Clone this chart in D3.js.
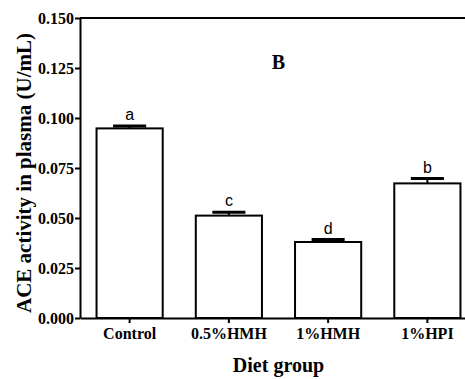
<!DOCTYPE html>
<html>
<head>
<meta charset="utf-8">
<script src="https://cdn.jsdelivr.net/npm/d3@7"></script>
<style>
  body { margin: 0; background: #fff; }
  text { font-family: "Liberation Serif", "Times New Roman", serif; font-weight: bold; }
</style>
</head>
<body>
<script>
// data
var groups = ["Control", "0.5%HMH", "1%HMH", "1%HPI"]
var means = [0.0948, 0.0512, 0.0380, 0.0673]
var errs = [0.0012, 0.0017, 0.0012, 0.0024]
var letters = ["a", "c", "d", "b"]
var yTicks = [0.000, 0.025, 0.050, 0.075, 0.100, 0.125, 0.150]

var width = 465, height = 379
var plotLeft = 80, plotRight = 477, plotTop = 18, plotBottom = 318

var svg = d3.select("body")
  .append("svg")
  .attr("width", width)
  .attr("height", height)

var x = d3.scaleBand()
  .domain(groups)
  .range([plotLeft, plotRight])
  .paddingInner(1/3)
  .paddingOuter(1/6)

var y = d3.scaleLinear()
  .domain([0, 0.15])
  .range([plotBottom, plotTop])

// bars
svg.selectAll("rect.bar")
  .data(groups)
  .enter()
  .append("rect")
    .attr("class", "bar")
    .attr("x", function(d){ return x(d) })
    .attr("y", function(d, i){ return y(means[i]) })
    .attr("width", x.bandwidth())
    .attr("height", function(d, i){ return y(0) - y(means[i]) })
    .attr("fill", "white")
    .attr("stroke", "black")
    .attr("stroke-width", 2)

// error bars (upper only)
var capW = x.bandwidth() / 2
svg.selectAll("line.err")
  .data(groups)
  .enter()
  .append("line")
    .attr("x1", function(d){ return x(d) + x.bandwidth()/2 })
    .attr("x2", function(d){ return x(d) + x.bandwidth()/2 })
    .attr("y1", function(d, i){ return y(means[i]) })
    .attr("y2", function(d, i){ return y(means[i] + errs[i]) })
    .attr("stroke", "black")
    .attr("stroke-width", 2)
svg.selectAll("line.cap")
  .data(groups)
  .enter()
  .append("line")
    .attr("x1", function(d){ return x(d) + x.bandwidth()/2 - capW/2 })
    .attr("x2", function(d){ return x(d) + x.bandwidth()/2 + capW/2 })
    .attr("y1", function(d, i){ return y(means[i] + errs[i]) })
    .attr("y2", function(d, i){ return y(means[i] + errs[i]) })
    .attr("stroke", "black")
    .attr("stroke-width", 3)

// significance letters
svg.selectAll("text.sig")
  .data(groups)
  .enter()
  .append("text")
    .attr("x", function(d){ return x(d) + x.bandwidth()/2 })
    .attr("y", function(d, i){ return y(means[i] + errs[i]) - 6 })
    .attr("text-anchor", "middle")
    .style("font-family", "'Liberation Sans', Arial, sans-serif")
    .style("font-weight", "normal")
    .style("font-size", "16px")
    .text(function(d, i){ return letters[i] })

// y axis
var yAxis = svg.append("g")
  .attr("transform", "translate(" + plotLeft + ",0)")
  .call(d3.axisLeft(y).tickValues(yTicks).tickFormat(d3.format(".3f")).tickSize(5).tickSizeOuter(0))
yAxis.select(".domain").attr("stroke-width", 2)
yAxis.selectAll(".tick line").attr("stroke-width", 2)
yAxis.selectAll(".tick text")
  .attr("x", -6)
  .style("font-family", "'Liberation Serif', serif")
  .style("font-size", "16px")
  .attr("fill", "black")

// x axis
var xAxis = svg.append("g")
  .attr("transform", "translate(0," + plotBottom + ")")
  .call(d3.axisBottom(x).tickSize(5).tickSizeOuter(0))
xAxis.select(".domain").attr("stroke-width", 2)
xAxis.selectAll(".tick line").attr("stroke-width", 2)
xAxis.selectAll(".tick text")
  .attr("y", 10)
  .style("font-family", "'Liberation Serif', serif")
  .style("font-size", "16px")
  .attr("fill", "black")

// top frame line
svg.append("line")
  .attr("x1", plotLeft).attr("x2", plotRight)
  .attr("y1", plotTop).attr("y2", plotTop)
  .attr("stroke", "black")
  .attr("stroke-width", 2)

// panel letter
svg.append("text")
  .attr("x", (plotLeft + plotRight) / 2)
  .attr("y", 69)
  .attr("text-anchor", "middle")
  .style("font-size", "20px")
  .text("B")

// axis titles
svg.append("text")
  .attr("x", (plotLeft + plotRight) / 2)
  .attr("y", 372)
  .attr("text-anchor", "middle")
  .style("font-size", "20px")
  .text("Diet group")

svg.append("text")
  .attr("transform", "translate(31," + 173 + ")rotate(-90)")
  .attr("text-anchor", "middle")
  .style("font-size", "21px")
  .text("ACE activity in plasma (U/mL)")
</script>
</body>
</html>
